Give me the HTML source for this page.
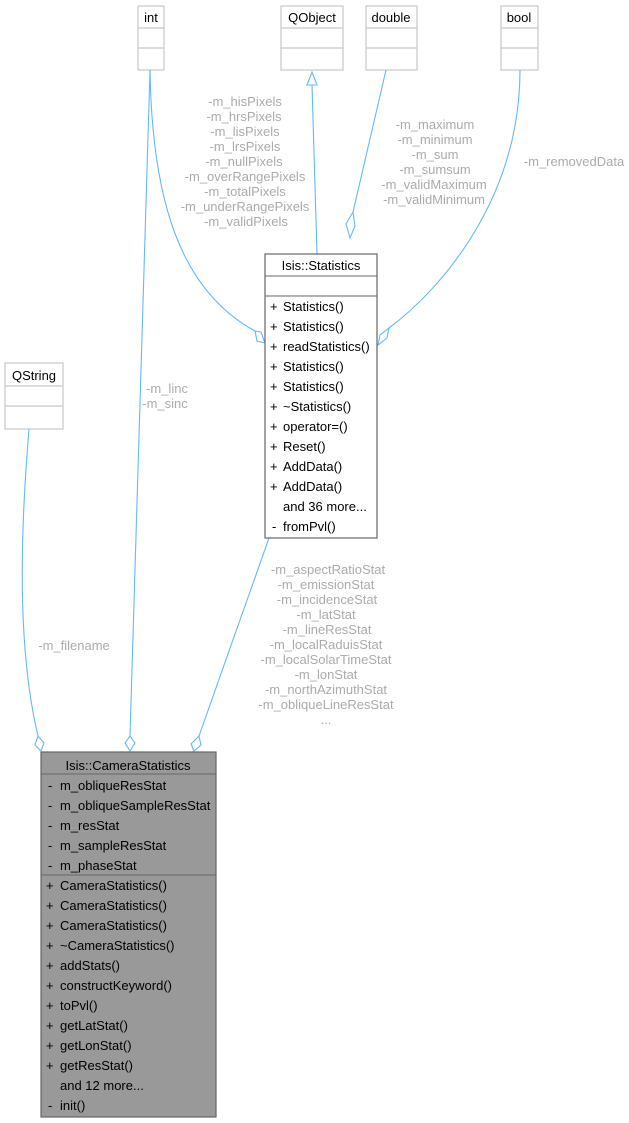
<!DOCTYPE html>
<html><head><meta charset="utf-8"><style>
html,body{margin:0;padding:0;background:#fff;}
svg{display:block;font-family:"Liberation Sans",Helvetica,Arial,sans-serif;}
.lbl{fill:#ababab;font-size:13px;text-anchor:middle;}
.t{font-size:13px;fill:#000;}
.e{stroke:#63b8ff;fill:none;stroke-width:1.1;}
.d{stroke:#63b8ff;fill:#fff;stroke-width:1.1;}
</style></head><body>
<svg width="629" height="1123" viewBox="0 0 629 1123">
<g stroke="#c8c8c8" fill="#fff" stroke-width="1.2">
<rect x="138" y="6" width="26" height="64"/><line x1="138" y1="28" x2="164" y2="28"/><line x1="138" y1="48" x2="164" y2="48"/>
<rect x="281" y="6" width="62" height="64"/><line x1="281" y1="28" x2="343" y2="28"/><line x1="281" y1="48" x2="343" y2="48"/>
<rect x="366" y="6" width="51" height="64"/><line x1="366" y1="28" x2="417" y2="28"/><line x1="366" y1="48" x2="417" y2="48"/>
<rect x="501" y="6" width="37" height="64"/><line x1="501" y1="28" x2="538" y2="28"/><line x1="501" y1="48" x2="538" y2="48"/>
<rect x="5" y="363" width="58" height="66"/><line x1="5" y1="386" x2="63" y2="386"/><line x1="5" y1="406" x2="63" y2="406"/>
</g>
<g class="t" text-anchor="middle">
<text x="151" y="22">int</text><text x="312" y="22">QObject</text><text x="391" y="22">double</text><text x="519" y="22">bool</text><text x="34" y="380">QString</text>
</g>
<path class="e" d="M150,70 C152,200 180,290 255,331"/>
<path class="d" d="M255,331 L261,332 L265,343 L257,341 Z"/>
<path class="e" d="M150,70 L130,736"/>
<path class="d" d="M130,736 L135,743 L130,751 L125,743 Z"/>
<path class="e" d="M317,254 L312,85"/>
<path class="d" d="M312,72 L317,85 L307,85 Z"/>
<path class="e" d="M386,70 L353,212"/>
<path class="d" d="M353,212 L355,226 L350,238 L346,224 Z"/>
<path class="e" d="M520,70 C520,200 440,290 389,328"/>
<path class="d" d="M389,328 L387,338 L378,345 L380,335 Z"/>
<path class="e" d="M29,429 C18,560 20,660 38,736"/>
<path class="d" d="M38,736 L44,743 L41,751 L35,745 Z"/>
<path class="e" d="M269,538 L199,736"/>
<path class="d" d="M199,736 L201,745 L194,751 L191,744 Z"/>
<g class="lbl">
<text x="245" y="106">-m_hisPixels</text><text x="244" y="121">-m_hrsPixels</text><text x="245" y="136">-m_lisPixels</text><text x="245" y="151">-m_lrsPixels</text><text x="244" y="166">-m_nullPixels</text><text x="245" y="181">-m_overRangePixels</text><text x="245" y="196">-m_totalPixels</text><text x="245" y="211">-m_underRangePixels</text><text x="246" y="226">-m_validPixels</text>
<text x="435" y="129">-m_maximum</text><text x="435" y="144">-m_minimum</text><text x="435" y="159">-m_sum</text><text x="435" y="174">-m_sumsum</text><text x="434" y="189">-m_validMaximum</text><text x="434" y="204">-m_validMinimum</text>
<text x="574" y="166">-m_removedData</text>
<text x="167" y="393">-m_linc</text><text x="165" y="408">-m_sinc</text>
<text x="74" y="650">-m_filename</text>
<text x="328" y="574">-m_aspectRatioStat</text><text x="326" y="589">-m_emissionStat</text><text x="327" y="604">-m_incidenceStat</text><text x="326" y="619">-m_latStat</text><text x="327" y="634">-m_lineResStat</text><text x="326" y="649">-m_localRaduisStat</text><text x="326" y="664">-m_localSolarTimeStat</text><text x="326" y="679">-m_lonStat</text><text x="326" y="694">-m_northAzimuthStat</text><text x="326" y="709">-m_obliqueLineResStat</text><text x="326" y="724">...</text>
</g>
<rect x="265" y="254" width="112" height="284" fill="#fff" stroke="#666" stroke-width="1.2"/>
<line x1="265" y1="276" x2="377" y2="276" stroke="#666"/><line x1="265" y1="296" x2="377" y2="296" stroke="#666"/>
<g class="t">
<text x="321" y="270" text-anchor="middle">Isis::Statistics</text>
<text x="270" y="311">+</text><text x="283" y="311">Statistics()</text>
<text x="270" y="331">+</text><text x="283" y="331">Statistics()</text>
<text x="270" y="351">+</text><text x="283" y="351">readStatistics()</text>
<text x="270" y="371">+</text><text x="283" y="371">Statistics()</text>
<text x="270" y="391">+</text><text x="283" y="391">Statistics()</text>
<text x="270" y="411">+</text><text x="283" y="411">~Statistics()</text>
<text x="270" y="431">+</text><text x="283" y="431">operator=()</text>
<text x="270" y="451">+</text><text x="283" y="451">Reset()</text>
<text x="270" y="471">+</text><text x="283" y="471">AddData()</text>
<text x="270" y="491">+</text><text x="283" y="491">AddData()</text>
<text x="283" y="511">and 36 more...</text>
<text x="272" y="531">-</text><text x="283" y="531">fromPvl()</text>
</g>
<rect x="41" y="752" width="175" height="365" fill="#999" stroke="#666" stroke-width="1.2"/>
<line x1="41" y1="774" x2="216" y2="774" stroke="#666"/><line x1="41" y1="875" x2="216" y2="875" stroke="#666"/>
<g class="t">
<text x="128" y="770" text-anchor="middle">Isis::CameraStatistics</text>
<text x="48" y="790">-</text><text x="60" y="790">m_obliqueResStat</text>
<text x="48" y="810">-</text><text x="60" y="810">m_obliqueSampleResStat</text>
<text x="48" y="830">-</text><text x="60" y="830">m_resStat</text>
<text x="48" y="850">-</text><text x="60" y="850">m_sampleResStat</text>
<text x="48" y="870">-</text><text x="60" y="870">m_phaseStat</text>
<text x="46" y="890">+</text><text x="60" y="890">CameraStatistics()</text>
<text x="46" y="910">+</text><text x="60" y="910">CameraStatistics()</text>
<text x="46" y="930">+</text><text x="60" y="930">CameraStatistics()</text>
<text x="46" y="950">+</text><text x="60" y="950">~CameraStatistics()</text>
<text x="46" y="970">+</text><text x="60" y="970">addStats()</text>
<text x="46" y="990">+</text><text x="60" y="990">constructKeyword()</text>
<text x="46" y="1010">+</text><text x="60" y="1010">toPvl()</text>
<text x="46" y="1030">+</text><text x="60" y="1030">getLatStat()</text>
<text x="46" y="1050">+</text><text x="60" y="1050">getLonStat()</text>
<text x="46" y="1070">+</text><text x="60" y="1070">getResStat()</text>
<text x="60" y="1090">and 12 more...</text>
<text x="48" y="1110">-</text><text x="60" y="1110">init()</text>
</g>
</svg>
</body></html>
